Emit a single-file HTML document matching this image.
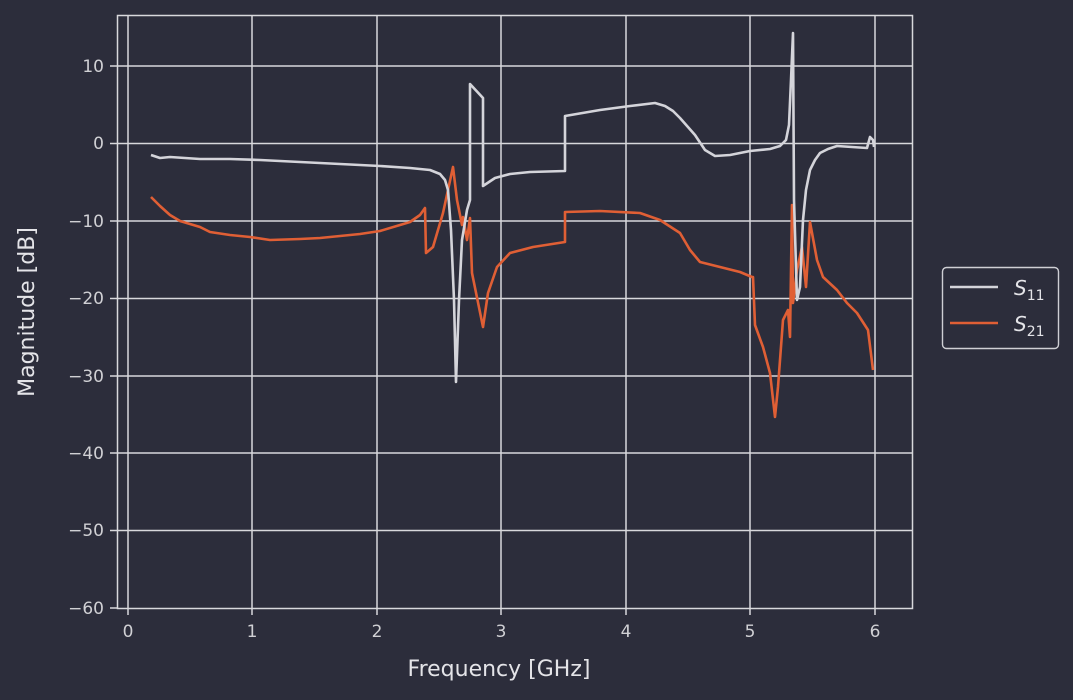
<!DOCTYPE html>
<html><head><meta charset="utf-8"><style>
html,body{margin:0;padding:0;background:#2c2d3b;}
svg{display:block;font-family:"DejaVu Sans","Liberation Sans",sans-serif;}
</style></head><body>
<svg width="1073" height="700" viewBox="0 0 1073 700" xmlns="http://www.w3.org/2000/svg">
<rect width="1073" height="700" fill="#2c2d3b"/>
<g stroke="#d8d8dc" stroke-width="1.5" fill="none">
<rect x="117.5" y="15.5" width="795" height="593"/>
<line x1="128" y1="15" x2="128" y2="608"/>
<line x1="252" y1="15" x2="252" y2="608"/>
<line x1="377" y1="15" x2="377" y2="608"/>
<line x1="501" y1="15" x2="501" y2="608"/>
<line x1="626" y1="15" x2="626" y2="608"/>
<line x1="750" y1="15" x2="750" y2="608"/>
<line x1="875" y1="15" x2="875" y2="608"/>
<line x1="117" y1="66" x2="912" y2="66"/>
<line x1="117" y1="143.5" x2="912" y2="143.5"/>
<line x1="117" y1="221" x2="912" y2="221"/>
<line x1="117" y1="298.5" x2="912" y2="298.5"/>
<line x1="117" y1="376" x2="912" y2="376"/>
<line x1="117" y1="453" x2="912" y2="453"/>
<line x1="117" y1="530.5" x2="912" y2="530.5"/>
<line x1="110" y1="66" x2="117" y2="66"/><line x1="110" y1="143.5" x2="117" y2="143.5"/>
<line x1="110" y1="221" x2="117" y2="221"/><line x1="110" y1="298.5" x2="117" y2="298.5"/>
<line x1="110" y1="376" x2="117" y2="376"/><line x1="110" y1="453" x2="117" y2="453"/>
<line x1="110" y1="530.5" x2="117" y2="530.5"/><line x1="110" y1="608" x2="117" y2="608"/>
<line x1="128" y1="608" x2="128" y2="615"/><line x1="252" y1="608" x2="252" y2="615"/>
<line x1="377" y1="608" x2="377" y2="615"/><line x1="501" y1="608" x2="501" y2="615"/>
<line x1="626" y1="608" x2="626" y2="615"/><line x1="750" y1="608" x2="750" y2="615"/>
<line x1="875" y1="608" x2="875" y2="615"/>
</g>
<g fill="#d0d0d4" font-size="17" text-anchor="end">
<text x="104" y="72">10</text><text x="104" y="149">0</text>
<text x="104" y="227">−10</text><text x="104" y="304">−20</text>
<text x="104" y="382">−30</text><text x="104" y="459">−40</text>
<text x="104" y="536">−50</text><text x="104" y="614">−60</text>
</g>
<g fill="#d0d0d4" font-size="17" text-anchor="middle">
<text x="128" y="637">0</text><text x="252" y="637">1</text><text x="377" y="637">2</text>
<text x="501" y="637">3</text><text x="626" y="637">4</text><text x="750" y="637">5</text><text x="875" y="637">6</text>
</g>
<text x="499" y="676" fill="#e4e4e8" font-size="22" text-anchor="middle">Frequency [GHz]</text>
<text transform="translate(34,312) rotate(-90)" fill="#e4e4e8" font-size="22" text-anchor="middle">Magnitude [dB]</text>
<polyline fill="none" stroke="#e05f35" stroke-width="2.6" stroke-linejoin="round" points="151,197 160,206 170,215 180,221 190,224 200,227 210,232 230,235 250,237 270,240 300,239 320,238 340,236 360,234 380,231 400,225 410,222 420,215 425,208 426,253 433,247 443,213 448,190 453,167 457,200 462,225 463,217 467,240 470,218 472,273 483,327 488,293 497,267 510,253 533,247 565,242 565,212 600,211 640,213 660,220 680,233 690,250 700,262 720,267 740,272 752,277 753,277 755,325 763,347 770,373 775,417 778,387 783,320 788,310 790,337 792,205 793,303 797,270 802,247 806,287 810,222 817,260 823,277 837,290 847,303 857,313 868,330 873,370"/>
<polyline fill="none" stroke="#d4d4da" stroke-width="2.6" stroke-linejoin="round" points="151,155 160,158 170,157 185,158 200,159 230,159 260,160 300,162 340,164 380,166 410,168 430,170 440,174 445,180 448,190 451,230 454,300 456,382 459,300 462,240 467,210 470,200 470,84 483,98 483,186 495,178 510,174 530,172 565,171 565,116 600,110 630,106 655,103 665,106 673,111 680,118 695,135 705,150 715,156 730,155 750,151 770,149 780,146 786,140 789,125 791,80 793,33 794,200 797,300 800,287 803,220 806,190 810,170 815,160 820,153 828,149 837,146 867,148 870,137 873,140 874,147"/>
<rect x="942.5" y="267.5" width="116" height="81" rx="4" fill="#2c2d3b" stroke="#cfcfd4" stroke-width="1.4"/>
<line x1="950" y1="287" x2="998" y2="287" stroke="#d4d4da" stroke-width="2.6"/>
<line x1="950" y1="323" x2="998" y2="323" stroke="#e05f35" stroke-width="2.6"/>
<text x="1014" y="295" fill="#e4e4e8" font-size="20" font-style="italic">S<tspan font-size="14" font-style="normal" dy="5">11</tspan></text>
<text x="1014" y="331" fill="#e4e4e8" font-size="20" font-style="italic">S<tspan font-size="14" font-style="normal" dy="5">21</tspan></text>
</svg>
</body></html>
